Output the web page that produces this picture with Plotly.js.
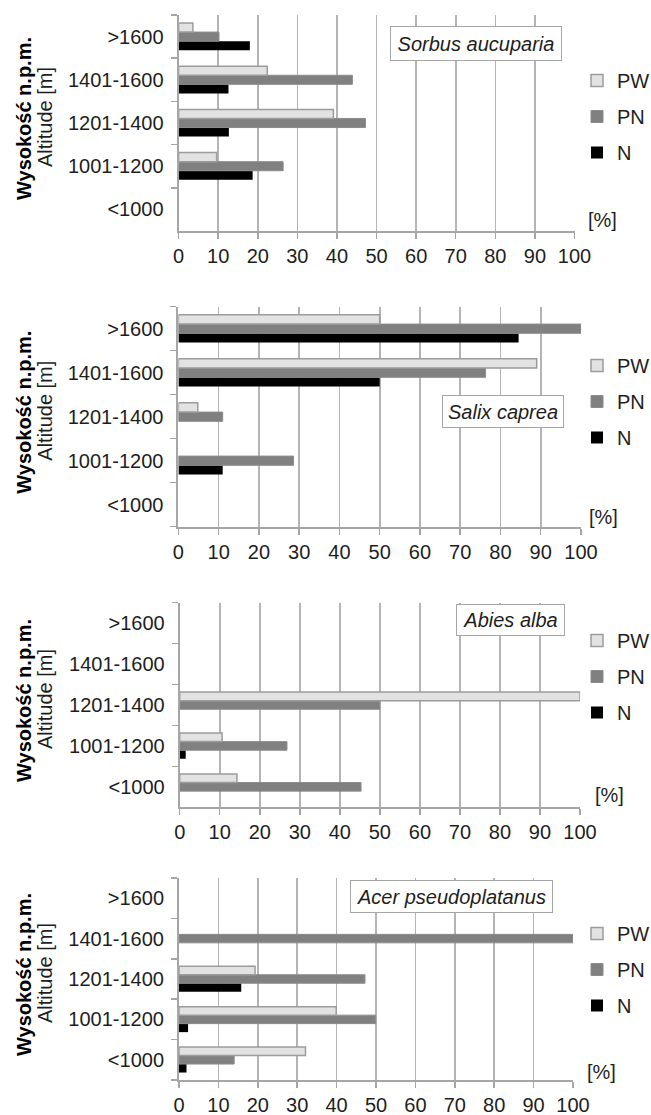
<!DOCTYPE html>
<html><head><meta charset="utf-8">
<script src="https://cdn.plot.ly/plotly-3.0.1.min.js"></script>
<style>html,body{margin:0;padding:0;background:#fff}#chart{width:651px;height:1115px}</style>
</head><body><div id="chart"></div>
<script>
// ---- data ----
const categories = ['<1000', '1001-1200', '1201-1400', '1401-1600', '>1600'];
const seriesNames = ['PW', 'PN', 'N'];
const speciesNames = ['Sorbus aucuparia', 'Salix caprea', 'Abies alba', 'Acer pseudoplatanus'];
const xTicks = [0, 10, 20, 30, 40, 50, 60, 70, 80, 90, 100];

const sorbusPW = [null, 9.6, 39.1, 22.4, 3.6];
const sorbusPN = [null, 26.4, 47.2, 43.9, 10.2];
const sorbusN  = [null, 18.7, 12.7, 12.6, 18.0];

const salixPW = [null, null, 4.8, 89.0, 50.0];
const salixPN = [null, 28.6, 11.0, 76.3, 100];
const salixN  = [null, 11.0, null, 50.0, 84.5];

const abiesPW = [14.3, 10.6, 100, null, null];
const abiesPN = [45.3, 26.8, 50.0, null, null];
const abiesN  = [null, 1.5, null, null, null];

const acerPW = [32.1, 39.9, 19.3, null, null];
const acerPN = [14.0, 49.9, 47.2, 100, null];
const acerN  = [1.9, 2.3, 15.8, null, null];

const panelData = [
  [sorbusPW, sorbusPN, sorbusN],
  [salixPW, salixPN, salixN],
  [abiesPW, abiesPN, abiesN],
  [acerPW, acerPN, acerN]
];

// ---- layout geometry (pixels) ----
const W = 651, H = 1115;
const panels = [
  {x0: 178.6, x1: 574.5, top: 15,    bot: 231,   box: [390, 26, 172, 35],  pct: [602, 220], leg: 61},
  {x0: 178.4, x1: 581,   top: 306.7, bot: 526.7, box: [442, 395, 122, 33], pct: [603, 517], leg: 346},
  {x0: 179.7, x1: 580,   top: 602.7, bot: 807.3, box: [456, 604, 109, 32], pct: [609, 795], leg: 621},
  {x0: 179,   x1: 573,   top: 878,   bot: 1080,  box: [350, 880, 203, 33], pct: [601, 1072], leg: 914}
];
const px = v => v / W;
const py = v => 1 - v / H;

const styles = {
  PW: {color: '#e2e2e2', line: {color: '#9c9c9c', width: 1.5}},
  PN: {color: '#808080', line: {color: '#8c8c8c', width: 1}},
  N:  {color: '#000000', line: {color: '#000000', width: 0}}
};
const ranks = {PW: 1, PN: 2, N: 3};
const FONT = 'Liberation Sans, Arial, sans-serif';
const textColor = '#1e1e1e';

const traces = [];
const layout = {
  width: W, height: H,
  margin: {l: 0, r: 0, t: 0, b: 0, autoexpand: false},
  paper_bgcolor: '#ffffff', plot_bgcolor: '#ffffff',
  barmode: 'group', bargap: 0.37, bargroupgap: 0,
  font: {family: FONT, size: 20, color: textColor},
  showlegend: true,
  annotations: []
};

panels.forEach((p, i) => {
  const n = i + 1;
  const xa = n === 1 ? 'x' : 'x' + n;
  const ya = n === 1 ? 'y' : 'y' + n;
  const legName = n === 1 ? 'legend' : 'legend' + n;
  // order N, PN, PW so PW sits on top of each group
  [2, 1, 0].forEach(s => {
    const name = seriesNames[s];
    traces.push({
      type: 'bar', orientation: 'h',
      name: name,
      x: panelData[i][s],
      y: categories,
      xaxis: xa, yaxis: ya,
      legend: legName,
      legendgroup: 'p' + n + name,
      legendrank: ranks[name],
      marker: {color: styles[name].color, line: styles[name].line},
      hoverinfo: 'x+y+name'
    });
  });
  layout['xaxis' + (n === 1 ? '' : n)] = {
    domain: [px(p.x0), px(p.x1)], anchor: ya,
    range: [0, 100], tickvals: xTicks, ticktext: xTicks.map(String),
    showgrid: true, gridcolor: '#b4b4b4', gridwidth: 1.6,
    zeroline: false,
    showline: true, linecolor: '#a6a6a6', linewidth: 2,
    ticks: 'outside', ticklen: 6, tickwidth: 1.5, tickcolor: '#a6a6a6',
    tickfont: {family: FONT, size: 20, color: textColor},
    fixedrange: true
  };
  layout['yaxis' + (n === 1 ? '' : n)] = {
    domain: [py(p.bot), py(p.top)], anchor: xa,
    type: 'category', categoryorder: 'array', categoryarray: categories,
    range: [-0.5, 4.5],
    showgrid: false, zeroline: false,
    showline: true, linecolor: '#a6a6a6', linewidth: 2,
    ticks: 'outside', tickson: 'boundaries', ticklen: 6, tickwidth: 1.5, tickcolor: '#a6a6a6',
    ticklabelstandoff: 9,
    tickfont: {family: FONT, size: 20, color: textColor},
    fixedrange: true
  };
  layout[legName] = {
    x: px(577), y: py(p.leg), xanchor: 'left', yanchor: 'top',
    traceorder: 'grouped', tracegroupgap: 7,
    bgcolor: 'rgba(0,0,0,0)', borderwidth: 0,
    font: {family: FONT, size: 20, color: textColor},
    itemclick: false, itemdoubleclick: false
  };
  // species label box
  layout.annotations.push({
    xref: 'paper', yref: 'paper',
    x: px(p.box[0]), y: py(p.box[1]), xanchor: 'left', yanchor: 'top',
    width: p.box[2] - 4, height: p.box[3] - 4,
    text: '<i>' + speciesNames[i] + '</i>', showarrow: false,
    bgcolor: '#ffffff', bordercolor: '#a6a6a6', borderwidth: 1, borderpad: 1,
    font: {family: FONT, size: 20, color: textColor}, align: 'center'
  });
  // [%] unit
  layout.annotations.push({
    xref: 'paper', yref: 'paper', x: px(p.pct[0]), y: py(p.pct[1]),
    xanchor: 'center', yanchor: 'middle', text: '[%]', showarrow: false,
    font: {family: FONT, size: 20, color: textColor}
  });
  const mid = (p.top + p.bot) / 2;
  layout.annotations.push({
    xref: 'paper', yref: 'paper', x: px(24), y: py(mid - 4),
    xanchor: 'center', yanchor: 'middle', textangle: -90,
    text: '<b>Wysokość n.p.m.</b>', showarrow: false,
    font: {family: FONT, size: 20, color: '#000000'}
  });
  layout.annotations.push({
    xref: 'paper', yref: 'paper', x: px(45), y: py(mid - 6),
    xanchor: 'center', yanchor: 'middle', textangle: -90,
    text: 'Altitude [m]', showarrow: false,
    font: {family: FONT, size: 20, color: textColor}
  });
});

Plotly.newPlot('chart', traces, layout, {staticPlot: true, displayModeBar: false});
</script>
</body></html>
